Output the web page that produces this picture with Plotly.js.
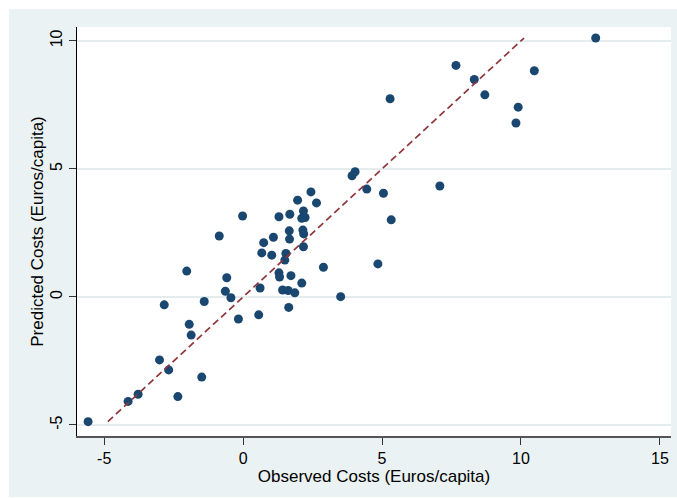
<!DOCTYPE html>
<html>
<head>
<meta charset="utf-8">
<script src="https://cdn.plot.ly/plotly-3.0.1.min.js"></script>
<style>
  html, body { margin: 0; padding: 0; background: #ffffff; }
  #chart { position: absolute; left: 9px; top: 9px; width: 668px; height: 488px; }
</style>
</head>
<body>
<div id="chart"></div>
<script>
// Observed costs (Euros/capita)
const observed = [
  -5.58, -4.14, -3.78, -3.01, -2.68, -2.35, -1.49, -2.03, -2.84, -1.94,
  -1.87, -1.40, -0.59, -0.64, -0.44, -0.17, 0.56, 0.61, 0.67, 0.74,
  1.03, 1.09, 1.29, 1.31, 1.42, 1.50, 1.54, 1.62, 1.64, 1.72,
  1.86, 2.11, 2.17, 2.89, 3.51, -0.86, -0.02, 1.29, 1.68, 1.66,
  1.67, 1.96, 2.17, 2.11, 2.23, 2.15, 2.18, 2.44, 2.64, 3.92,
  4.03, 4.45, 5.05, 5.33, 5.29, 7.08, 7.66, 8.32, 8.70, 9.90,
  9.82, 10.48, 12.69, 4.85
];
// Predicted costs (Euros/capita)
const predicted = [
  -4.87, -4.08, -3.80, -2.46, -2.85, -3.89, -3.13, 1.01, -0.31, -1.07,
  -1.49, -0.18, 0.75, 0.22, -0.03, -0.86, -0.70, 0.35, 1.72, 2.12,
  1.63, 2.33, 0.94, 0.78, 0.27, 1.44, 1.70, 0.25, -0.41, 0.83,
  0.16, 0.54, 1.96, 1.16, 0.01, 2.38, 3.16, 3.13, 3.23, 2.58,
  2.26, 3.78, 3.36, 3.07, 3.10, 2.61, 2.46, 4.10, 3.67, 4.73,
  4.89, 4.21, 4.05, 3.01, 7.74, 4.33, 9.04, 8.49, 7.89, 7.41,
  6.79, 8.83, 10.11, 1.29
];
const xTickVals = [-5, 0, 5, 10, 15];
const yTickVals = [-5, 0, 5, 10];
const xTitle = "Observed Costs (Euros/capita)";
const yTitle = "Predicted Costs (Euros/capita)";

// 45-degree reference line spanning the predicted range
const lineMin = Math.min(...predicted);
const lineMax = Math.max(...predicted);

const traces = [
  {
    type: "scatter", mode: "markers",
    x: observed, y: predicted,
    marker: { color: "#1A476F", size: 9, line: { width: 0 } },
    hoverinfo: "x+y", showlegend: false
  },
  {
    type: "scatter", mode: "lines",
    x: [lineMin, lineMax], y: [lineMin, lineMax],
    line: { color: "#90353B", width: 1.7, dash: "7px,4px" },
    hoverinfo: "skip", showlegend: false
  }
];

const fontFam = "Liberation Sans, Arial, Helvetica, sans-serif";

const layout = {
  width: 668, height: 488,
  margin: { l: 68, r: 6, t: 18, b: 61, pad: 0 },
  paper_bgcolor: "#EAF2F3",
  plot_bgcolor: "#ffffff",
  font: { family: fontFam, size: 16, color: "#000000" },
  xaxis: {
    range: [-5.98, 15.40],
    tickvals: xTickVals, ticktext: xTickVals.map(String),
    ticks: "outside", ticklen: 7, tickwidth: 1, tickcolor: "#333333",
    showline: true, linecolor: "#555555", linewidth: 1.5,
    showgrid: false, zeroline: false,
    tickfont: { family: fontFam, size: 16, color: "#000000" },
    title: { text: xTitle, font: { family: fontFam, size: 17, color: "#000000" }, standoff: 4 },
    automargin: false
  },
  yaxis: {
    range: [-5.43, 10.54],
    tickvals: yTickVals, ticktext: yTickVals.map(String),
    tickangle: -90,
    ticks: "outside", ticklen: 7, tickwidth: 1, tickcolor: "#333333",
    showline: true, linecolor: "#000000", linewidth: 1.5,
    showgrid: true, gridcolor: "#E4ECEE", gridwidth: 1.5,
    zeroline: false,
    tickfont: { family: fontFam, size: 16, color: "#000000" },
    title: { text: yTitle, font: { family: fontFam, size: 17, color: "#000000" }, standoff: 0 },
    automargin: false
  },
  showlegend: false,
  hovermode: "closest"
};

Plotly.newPlot("chart", traces, layout, { displayModeBar: false, staticPlot: true });
</script>
</body>
</html>
